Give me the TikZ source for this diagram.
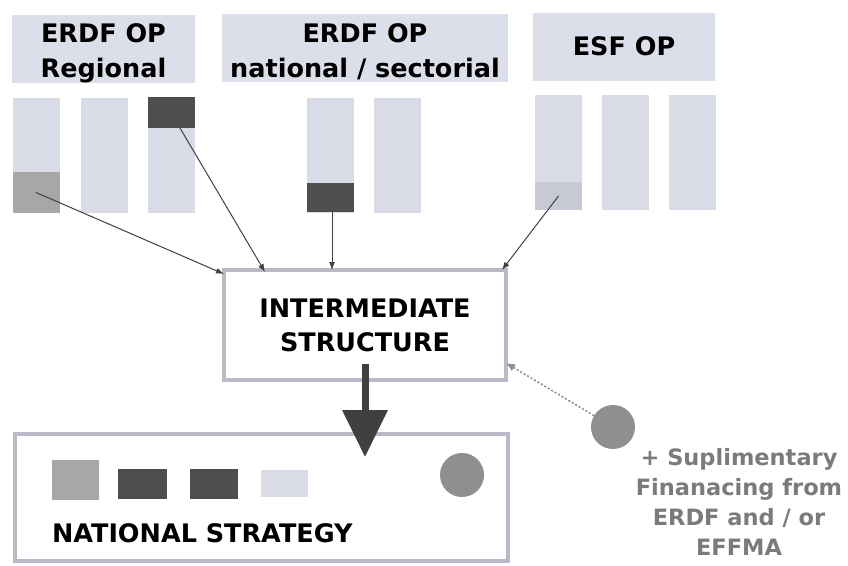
\documentclass[tikz,border=0pt]{standalone}
\usepackage{fontspec}
\setmainfont{DejaVu Sans}
\usetikzlibrary{arrows.meta,calc}
\definecolor{oplav}{HTML}{DCDFEA}
\definecolor{barlav}{HTML}{D9DCE7}
\definecolor{midgrey}{HTML}{A7A7A7}
\definecolor{darkgrey}{HTML}{4E4E4E}
\definecolor{esfgrey}{HTML}{C7C9D4}
\definecolor{framegrey}{HTML}{B8BBC7}
\definecolor{dotgrey}{HTML}{8F8F8F}
\definecolor{suptext}{HTML}{7B7B7B}
\begin{document}
\begin{tikzpicture}[x=1pt,y=-1pt,line cap=round,line join=round,
  every node/.style={inner sep=0pt,outer sep=0pt},
  opbox/.style={fill=oplav,minimum height=68pt},
  optxt/.style={align=center,font=\fontsize{25.5}{35}\selectfont\bfseries},
  bar/.style={fill=barlav,minimum width=47pt,minimum height=115pt},
  blk/.style={minimum width=47pt},
  frame/.style={draw=framegrey,line width=4pt,fill=white,line join=miter},
  feed/.style={line width=1pt,draw=black!75,-{Latex[length=8pt,width=6pt]}}]
  \useasboundingbox (0,0) rectangle (848,565);
  \node[opbox,minimum width=183pt] (regop) at (103.5,49) {};
  \node[opbox,minimum width=286pt] (natop) at (365,48) {};
  \node[opbox,minimum width=182pt] (esfop) at (624,46.5) {};
  \node[optxt] (regtxt) at ($(regop)+(0,4)$) {ERDF OP\\Regional};
  \node[optxt] (nattxt) at ($(natop)+(0,3.5)$) {ERDF OP\\national / sectorial};
  \node[optxt] (esftxt) at (esfop) {ESF OP};
  \foreach \x/\y/\n in {36/155.5/b1,104.5/155.5/b2,171/155.5/b3,330.5/155/b4,397.5/155/b5,558.5/152.5/b6,625.5/152.5/b7,692/152.5/b8}
    \node[bar] (\n) at (\x,\y) {};
  \node[blk,fill=midgrey,minimum height=41pt] (rgblk) at (36,192.5) {};
  \node[blk,fill=darkgrey,minimum height=31pt] (rdblk) at (171,112.5) {};
  \node[blk,fill=darkgrey,minimum height=29pt] (nsblk) at (330.5,197.5) {};
  \node[blk,fill=esfgrey,minimum height=28pt] (esblk) at (558.5,196) {};
  \node[frame,minimum width=282pt,minimum height=110pt,align=center,
    font=\fontsize{25.5}{34}\selectfont\bfseries] (inter) at (365,325) {INTERMEDIATE\\STRUCTURE};
  \node[frame,minimum width=493pt,minimum height=127pt] (nat) at (261.5,497.5) {};
  \node[anchor=base west,font=\fontsize{25.5}{30}\selectfont\bfseries] (natlbl) at (52,542) {NATIONAL STRATEGY};
  \node[fill=midgrey,minimum width=47pt,minimum height=40pt] (sq1) at (75.5,480) {};
  \node[fill=darkgrey,minimum width=49pt,minimum height=30pt] (sq2) at (142.5,484) {};
  \node[fill=darkgrey,minimum width=48pt,minimum height=30pt] (sq3) at (214,484) {};
  \node[fill=barlav,minimum width=47pt,minimum height=27pt] (sq4) at (284.5,483.5) {};
  \node[circle,fill=dotgrey,minimum size=44pt] (natdot) at (462,475) {};
  \node[circle,fill=dotgrey,minimum size=44pt] (sup) at (613,427) {};
  \node[align=center,text=suptext,font=\fontsize{22.5}{30}\selectfont\bfseries] (suptxt) at (739,502)
    {+ Suplimentary\\Finanacing from\\ERDF and / or\\EFFMA};
  \coordinate (in1) at ($(inter.north west)+(0,4)$);
  \coordinate (in2) at ($(inter.north west)+(41,2)$);
  \coordinate (in3) at ($(nsblk.south |- inter.north)+(1.5,0)$);
  \coordinate (in4) at ($(inter.north east)+(-4,0)$);
  \coordinate (supin) at ($(inter.south east)+(0,-17)$);
  \coordinate (tip) at ($(inter.south |- nat.north)+(0,23)$);
  \draw[feed] (rgblk.center) -- (in1);
  \draw[feed] ([xshift=9pt]rdblk.south) -- (in2);
  \draw[feed] ([xshift=1.5pt]nsblk.south) -- (in3);
  \draw[feed] (esblk.center) -- (in4);
  \draw[line width=7pt,draw=black!75,line cap=butt,-{Triangle[width=44pt,length=47pt]}]
    ($(inter.south)+(0,-16)$) -- (tip);
  \draw[line width=1.6pt,draw=dotgrey,dash pattern=on 2pt off 2pt,line cap=butt,
    -{Latex[length=9pt,width=8pt]}] (sup) -- (supin);
\end{tikzpicture}
\end{document}
